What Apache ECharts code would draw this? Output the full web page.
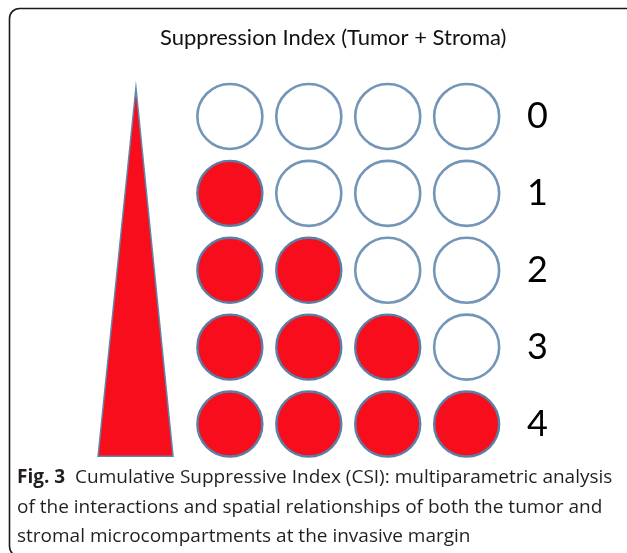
<!DOCTYPE html>
<html>
<head>
<meta charset="utf-8">
<script src="https://cdn.jsdelivr.net/npm/echarts@6/dist/echarts.min.js"></script>
<style>
  html,body{margin:0;padding:0;background:#fff;}
  #main{width:627px;height:553px;}
</style>
</head>
<body>
<div id="main"></div>
<script>
// CSI levels (rows) and the 4 parameters (columns)
var levels = [0, 1, 2, 3, 4];
var filledCount = [0, 1, 2, 3, 4]; // red circles per level
var columns = [0, 1, 2, 3];
// wedge (triangle) in the same data units as the grid
var wedge = [[-1.19, -0.37], [-1.67, 4.42], [-0.72, 4.42]];

var filled = [], empty = [];
levels.forEach(function (lv, i) {
  columns.forEach(function (c) {
    if (c < filledCount[i]) filled.push([c, lv]);
    else empty.push([c, lv]);
  });
});

var myChart = echarts.init(document.getElementById('main'));
var option = {
  backgroundColor: '#fff',
  animation: false,
  title: [
    {
      text: 'Suppression Index (Tumor + Stroma)',
      left: 155,
      top: 22,
      textStyle: { fontFamily: 'Lato', fontSize: 22, fontWeight: 'normal', color: '#111' }
    },
    {
      text: '{b|Fig. 3}  Cumulative Suppressive Index (CSI): multiparametric analysis\nof the interactions and spatial relationships of both the tumor and\nstromal microcompartments at the invasive margin',
      left: 12,
      top: 458,
      textStyle: {
        fontFamily: 'Open Sans', fontSize: 19, fontWeight: 'normal', color: '#231f20', lineHeight: 29.5,
        rich: { b: { fontFamily: 'Open Sans', fontSize: 19, fontWeight: 'bold', color: '#231f20', lineHeight: 29.5 } }
      }
    }
  ],
  graphic: [
    {
      type: 'rect',
      shape: { x: 9.5, y: 8.5, width: 640, height: 548, r: 10 },
      style: { fill: 'none', stroke: '#1a1a1a', lineWidth: 1.6 },
      silent: true
    }
  ],
  grid: { left: 72, right: 113, top: 78, bottom: 90.5 },
  xAxis: {
    type: 'value', min: -2, max: 3.6,
    show: false
  },
  yAxis: {
    type: 'value', inverse: true, min: -0.5, max: 4.5, interval: 0.5,
    position: 'right',
    axisLine: { show: false }, axisTick: { show: false }, splitLine: { show: false },
    axisLabel: {
      margin: 13, fontFamily: 'Lato', fontSize: 36, color: '#000',
      formatter: function (v) { return (Number.isInteger(v) && v >= 0 && v <= 4) ? String(v) : ''; }
    }
  },
  series: [
    {
      type: 'custom',
      silent: true,
      data: [0],
      renderItem: function (params, api) {
        var pts = wedge.map(function (p) { return api.coord(p); });
        return {
          type: 'polygon',
          shape: { points: pts },
          style: { fill: '#f70d1c', stroke: '#5f86ab', lineWidth: 1.5 }
        };
      }
    },
    {
      type: 'scatter',
      data: empty,
      symbol: 'circle',
      symbolSize: 65,
      itemStyle: { color: '#fff', borderColor: '#7396b8', borderWidth: 2.6, opacity: 1 }
    },
    {
      type: 'scatter',
      data: filled,
      symbol: 'circle',
      symbolSize: 65,
      itemStyle: { color: '#f70d1c', borderColor: '#5a7fa6', borderWidth: 2.4, opacity: 1 }
    }
  ]
};
option && myChart.setOption(option);
window.addEventListener('resize', function () { myChart.resize(); });
</script>
</body>
</html>
